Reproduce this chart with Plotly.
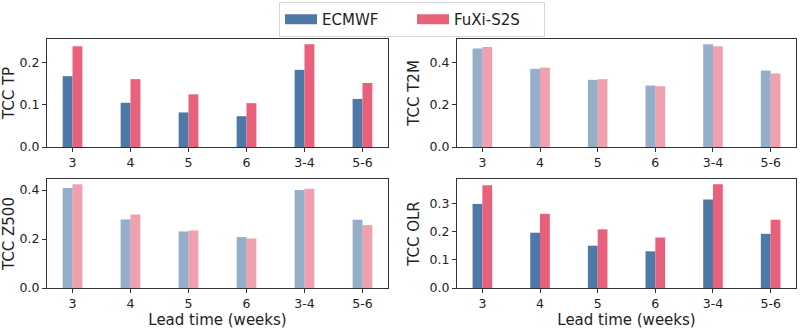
import plotly.graph_objects as go

categories = ["3", "4", "5", "6", "3-4", "5-6"]
tp_ecmwf = [0.168, 0.105, 0.082, 0.073, 0.183, 0.114]
tp_fuxi = [0.239, 0.161, 0.125, 0.104, 0.244, 0.152]
t2m_ecmwf = [0.466, 0.370, 0.318, 0.291, 0.487, 0.362]
t2m_fuxi = [0.474, 0.376, 0.321, 0.288, 0.477, 0.348]
z500_ecmwf = [0.408, 0.280, 0.231, 0.208, 0.400, 0.279]
z500_fuxi = [0.424, 0.300, 0.235, 0.202, 0.405, 0.257]
olr_ecmwf = [0.298, 0.196, 0.150, 0.130, 0.314, 0.192]
olr_fuxi = [0.364, 0.263, 0.208, 0.179, 0.368, 0.242]

panels = [
    ("TCC TP", tp_ecmwf, tp_fuxi, False, [0, 0.1, 0.2]),
    ("TCC T2M", t2m_ecmwf, t2m_fuxi, True, [0, 0.2, 0.4]),
    ("TCC Z500", z500_ecmwf, z500_fuxi, True, [0, 0.2, 0.4]),
    ("TCC OLR", olr_ecmwf, olr_fuxi, False, [0, 0.1, 0.2, 0.3]),
]

BLUE = "#4e79a7"
PINK = "#e8607a"
BLUE_L = "rgba(78,121,167,0.6)"
PINK_L = "rgba(232,96,122,0.6)"
W = 0.17
FONT = "DejaVu Sans"

xdoms = [[47 / 800, 388 / 800], [457 / 800, 796 / 800]]
H = 329
ydoms = [[(H - 147) / H, (H - 39) / H], [(H - 288) / H, (H - 179) / H]]

fig = go.Figure()
pos = list(range(len(categories)))
for k, (title, ec, fu, light, ticks) in enumerate(panels):
    r, c = divmod(k, 2)
    ax = "" if k == 0 else str(k + 1)
    xref, yref = "x" + ax, "y" + ax
    cb = BLUE_L if light else BLUE
    cp = PINK_L if light else PINK
    fig.add_trace(go.Bar(x=[p - W / 2 for p in pos], y=ec, width=W, marker_color=cb,
                         marker_line_width=0, showlegend=False, xaxis=xref, yaxis=yref,
                         name="ECMWF"))
    fig.add_trace(go.Bar(x=[p + W / 2 for p in pos], y=fu, width=W, marker_color=cp,
                         marker_line_width=0, showlegend=False, xaxis=xref, yaxis=yref,
                         name="FuXi-S2S"))
    ymax = max(max(ec), max(fu)) * 1.05
    fig.layout["xaxis" + ax] = dict(
        domain=xdoms[c], anchor=yref, range=[-0.44, 5.44], automargin=False,
        tickvals=pos, ticktext=categories, ticks="outside", ticklen=4,
        tickcolor="#333", showline=True, linecolor="#333", linewidth=1, mirror=True,
        showgrid=False, zeroline=False, tickfont=dict(size=12.5, color="#222", family=FONT),
        title=dict(text="Lead time (weeks)" if r == 1 else "", font=dict(size=15, color="#222", family=FONT), standoff=0),
    )
    fig.layout["yaxis" + ax] = dict(
        domain=ydoms[r], anchor=xref, range=[0, ymax], automargin=False,
        tickvals=ticks, ticktext=[f"{t:.1f}" for t in ticks], ticks="outside", ticklen=4,
        tickcolor="#333", showline=True, linecolor="#333", linewidth=1, mirror=True,
        showgrid=False, zeroline=False, tickfont=dict(size=12.5, color="#222", family=FONT),
        title=dict(text=title, font=dict(size=15, color="#222", family=FONT), standoff=6),
    )

# legend entries
fig.add_trace(go.Scatter(x=[None], y=[None], mode="lines", line=dict(color=BLUE, width=11),
                         name="ECMWF", showlegend=True))
fig.add_trace(go.Scatter(x=[None], y=[None], mode="lines", line=dict(color=PINK, width=11),
                         name="FuXi-S2S", showlegend=True))

fig.update_layout(
    width=800, height=329, margin=dict(l=0, r=0, t=0, b=0),
    paper_bgcolor="white", plot_bgcolor="white",
    font=dict(family=FONT, color="#222"),
    legend=dict(orientation="h", x=279 / 800, xanchor="left", y=1 - 2 / 329, yanchor="top",
                bordercolor="#d5d5d5", borderwidth=1, font=dict(size=15, family=FONT),
                itemwidth=32, entrywidth=85, entrywidthmode="pixels", traceorder="normal"),
    barmode="overlay",
)

fig.write_html("out.html", config={"displayModeBar": False},
               post_script="document.body.style.margin='0';document.body.style.overflow='hidden';")
